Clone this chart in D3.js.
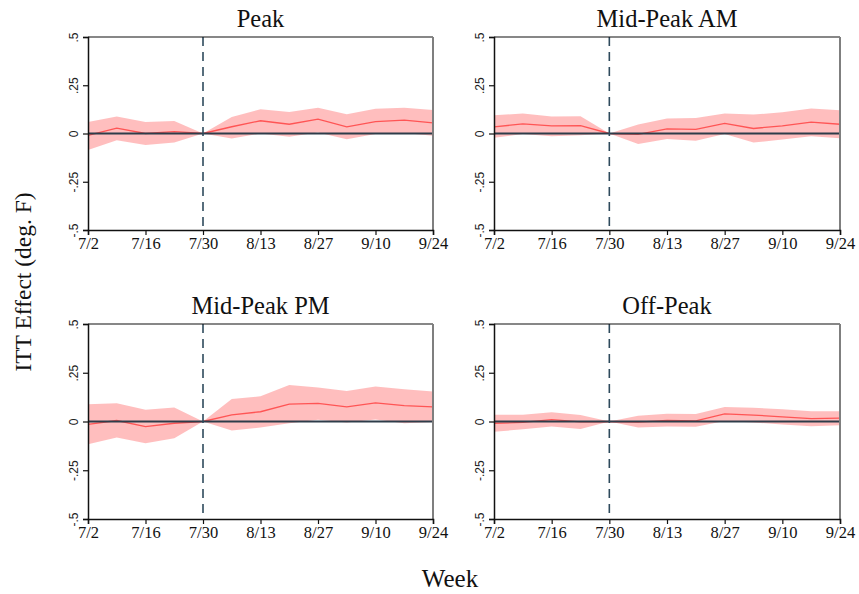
<!DOCTYPE html>
<html>
<head>
<meta charset="utf-8">
<script src="https://cdn.jsdelivr.net/npm/d3@7"></script>
<style>
  html, body { margin: 0; padding: 0; background: #fff; }
  svg { display: block; }
</style>
</head>
<body>
<svg id="chart" width="859" height="594"></svg>
<script>
// Weekly dates (week starting), with labels shown every two weeks
const weeks = ["7/2","7/9","7/16","7/23","7/30","8/6","8/13","8/20","8/27","9/3","9/10","9/17","9/24"];
const tickWeeks = ["7/2","7/16","7/30","8/13","8/27","9/10","9/24"];
const yTicks = [-0.5, -0.25, 0, 0.25, 0.5];
const yTickLabels = ["-.5", "-.25", "0", ".25", ".5"];
const treatmentWeek = "7/30";

const panelTitles = ["Peak", "Mid-Peak AM", "Mid-Peak PM", "Off-Peak"];

// Point estimates and 95% bounds per panel
const peakEst   = [-0.010, 0.028, 0.000, 0.010, 0, 0.035, 0.066, 0.048, 0.074, 0.034, 0.062, 0.069, 0.055];
const peakHi    = [ 0.060, 0.088, 0.060, 0.065, 0, 0.086, 0.126, 0.112, 0.134, 0.100, 0.128, 0.133, 0.122];
const peakLo    = [-0.085,-0.035,-0.060,-0.047, 0,-0.026, 0.000,-0.017, 0.005,-0.030,-0.002, 0.003,-0.012];

const amEst     = [ 0.034, 0.050, 0.040, 0.041, 0,-0.005, 0.024, 0.021, 0.052, 0.026, 0.040, 0.059, 0.048];
const amHi      = [ 0.095, 0.103, 0.088, 0.090, 0, 0.047, 0.078, 0.080, 0.103, 0.098, 0.110, 0.130, 0.120];
const amLo      = [-0.022,-0.003,-0.014,-0.009, 0,-0.055,-0.029,-0.038,-0.002,-0.047,-0.031,-0.014,-0.024];

const pmEst     = [-0.015, 0.005,-0.026,-0.009, 0, 0.034, 0.050, 0.089, 0.093, 0.075, 0.096, 0.081, 0.075];
const pmHi      = [ 0.089, 0.094, 0.060, 0.072, 0, 0.115, 0.129, 0.187, 0.175, 0.156, 0.180, 0.166, 0.154];
const pmLo      = [-0.117,-0.082,-0.111,-0.086, 0,-0.046,-0.031,-0.009, 0.009,-0.005, 0.010,-0.009,-0.003];

const offEst    = [-0.009,-0.005, 0.010,-0.002, 0,-0.003, 0.005, 0.003, 0.039, 0.033, 0.024, 0.015, 0.017];
const offHi     = [ 0.034, 0.034, 0.048, 0.033, 0, 0.030, 0.040, 0.038, 0.074, 0.070, 0.063, 0.053, 0.053];
const offLo     = [-0.053,-0.040,-0.026,-0.038, 0,-0.031,-0.026,-0.027, 0.003,-0.005,-0.015,-0.024,-0.019];

const panelData = [
  { est: peakEst, hi: peakHi, lo: peakLo },
  { est: amEst,   hi: amHi,   lo: amLo },
  { est: pmEst,   hi: pmHi,   lo: pmLo },
  { est: offEst,  hi: offHi,  lo: offLo }
];

const serif = "'Liberation Serif', 'DejaVu Serif', serif";
const sans = "'Liberation Sans', Arial, sans-serif";

const svg = d3.select("#chart");

// Plot-area frames for the 2x2 grid
const cols = [{ x0: 88, x1: 433 }, { x0: 494, x1: 840 }];
const rows = [{ y0: 37, y1: 230 }, { y0: 324, y1: 519 }];

panelTitles.forEach((title, i) => {
  const c = cols[i % 2], r = rows[Math.floor(i / 2)];
  const d = panelData[i];

  const x = d3.scalePoint().domain(weeks).range([c.x0, c.x1]);
  const y = d3.scaleLinear().domain([-0.5, 0.5]).range([r.y1, r.y0]);

  const g = svg.append("g");

  // Confidence band
  const area = d3.area()
    .x((_, k) => x(weeks[k]))
    .y0((_, k) => y(d.lo[k]))
    .y1((_, k) => y(d.hi[k]));
  g.append("path")
    .datum(d.est)
    .attr("d", area)
    .attr("fill", "#ffb3b3")
    .attr("fill-opacity", 0.85);

  // Point estimate line
  const line = d3.line()
    .x((_, k) => x(weeks[k]))
    .y(v => y(v));
  g.append("path")
    .datum(d.est)
    .attr("d", line)
    .attr("fill", "none")
    .attr("stroke", "#ff5555")
    .attr("stroke-width", 1.3);

  // Zero reference line
  g.append("line")
    .attr("x1", c.x0).attr("x2", c.x1)
    .attr("y1", y(0)).attr("y2", y(0))
    .attr("stroke", "#2e3d4a")
    .attr("stroke-width", 2);

  // Treatment start
  g.append("line")
    .attr("x1", x(treatmentWeek)).attr("x2", x(treatmentWeek))
    .attr("y1", r.y0).attr("y2", r.y1)
    .attr("stroke", "#2e4a5c")
    .attr("stroke-width", 1.6)
    .attr("stroke-dasharray", "9,6");

  // Frame: top border and grey right border
  g.append("line")
    .attr("x1", c.x0).attr("x2", c.x1)
    .attr("y1", r.y0).attr("y2", r.y0)
    .attr("stroke", "#111").attr("stroke-width", 1.2);
  g.append("line")
    .attr("x1", c.x1).attr("x2", c.x1)
    .attr("y1", r.y0).attr("y2", r.y1)
    .attr("stroke", "#7f7f7f").attr("stroke-width", 2);

  // Y axis
  const yAxis = g.append("g")
    .attr("transform", `translate(${c.x0},0)`)
    .call(d3.axisLeft(y).tickValues(yTicks).tickSize(5).tickPadding(4)
      .tickFormat((v, k) => yTickLabels[k]));
  yAxis.select(".domain").attr("stroke", "#111").attr("stroke-width", 1.5);
  yAxis.selectAll(".tick line").attr("stroke", "#111").attr("stroke-width", 1.2);
  yAxis.selectAll(".tick text")
    .attr("font-family", sans)
    .attr("font-size", 12)
    .attr("fill", "#222")
    .attr("text-anchor", "middle")
    .attr("dy", 0)
    .attr("transform", "translate(-14,0) rotate(-90)")
    .attr("x", 0).attr("y", 0)
    .attr("dominant-baseline", "central");

  // X axis
  const xAxis = g.append("g")
    .attr("transform", `translate(0,${r.y1})`)
    .call(d3.axisBottom(x).tickValues(tickWeeks).tickSize(5).tickPadding(2));
  xAxis.select(".domain").attr("stroke", "#111").attr("stroke-width", 1.5);
  xAxis.selectAll(".tick line").attr("stroke", "#111").attr("stroke-width", 1.2);
  xAxis.selectAll(".tick text")
    .attr("font-family", serif)
    .attr("font-size", 16.5)
    .attr("fill", "#111");

  // Panel title
  g.append("text")
    .attr("x", (c.x0 + c.x1) / 2)
    .attr("y", r.y0 - 10)
    .attr("text-anchor", "middle")
    .attr("font-family", serif)
    .attr("font-size", 24.5)
    .attr("fill", "#111")
    .text(title);
});

// Shared axis titles
svg.append("text")
  .attr("transform", "translate(31,282) rotate(-90)")
  .attr("text-anchor", "middle")
  .attr("font-family", serif)
  .attr("font-size", 23.5)
  .attr("fill", "#111")
  .text("ITT Effect (deg. F)");

svg.append("text")
  .attr("x", 450)
  .attr("y", 587)
  .attr("text-anchor", "middle")
  .attr("font-family", serif)
  .attr("font-size", 25)
  .attr("fill", "#111")
  .text("Week");
</script>
</body>
</html>
